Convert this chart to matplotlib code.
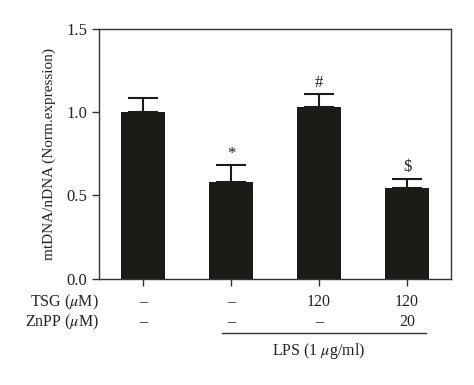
import matplotlib.pyplot as plt
import numpy as np

plt.rcParams['font.family'] = ['Liberation Serif', 'DejaVu Serif']
plt.rcParams['mathtext.fontset'] = 'stix'

# data
means = [1.00, 0.58, 1.03, 0.545]
errs = [0.085, 0.10, 0.08, 0.055]
marks = ['', '*', '#', '$']
tsg = ['\u2013', '\u2013', '120', '120']
znpp = ['\u2013', '\u2013', '\u2013', '20']
yticks = [0.0, 0.5, 1.0, 1.5]

barcol = '#1c1b17'
spcol = '#333333'
txtcol = '#222222'

fig = plt.figure(figsize=(4.74, 3.85), dpi=100)
ax = fig.add_axes([0.2089, 0.2766, 0.7426, 0.6481])

x = np.arange(len(means))
ax.bar(x, means, width=0.51, color=barcol, zorder=2)
ax.errorbar(x, means, yerr=[np.zeros(len(errs)), errs], fmt='none',
            ecolor=barcol, elinewidth=1.5, capsize=11, capthick=1.5, zorder=1)

for xi, m, e, s in zip(x, means, errs, marks):
	if s:
		ax.text(xi, m + e + 0.02, s if s != '$' else r'\$', ha='center', va='bottom',
		        fontsize=12, color=barcol)

ax.set_xlim(-0.5, 3.5)
ax.set_ylim(0, 1.5)
ax.set_yticks(yticks)
ax.set_yticklabels(['%.1f' % v for v in yticks], fontsize=12, color=txtcol)
ax.set_xticks(x)
ax.set_xticklabels([])
ax.tick_params(axis='both', direction='out', length=5, width=1, color=spcol)
for sp in ax.spines.values():
	sp.set_color(spcol)
	sp.set_linewidth(1)

ax.set_ylabel('mtDNA/nDNA (Norm.expression)', fontsize=11, color=txtcol, labelpad=7)

# treatment table below the axis
trans = ax.get_xaxis_transform()
ax.text(-0.5, -0.095, r'TSG ($\mu$M)', transform=trans, ha='right', va='center',
        fontsize=11.5, color=txtcol, clip_on=False)
ax.text(-0.5, -0.175, r'ZnPP ($\mu$M)', transform=trans, ha='right', va='center',
        fontsize=11.5, color=txtcol, clip_on=False)
for xi, a, b in zip(x, tsg, znpp):
	ax.text(xi, -0.095, a, transform=trans, ha='center', va='center',
	        fontsize=11.5, color=txtcol, clip_on=False)
	ax.text(xi, -0.175, b, transform=trans, ha='center', va='center',
	        fontsize=11.5, color=txtcol, clip_on=False)

ax.plot([0.9, 3.22], [-0.22, -0.22], transform=trans, color=spcol, lw=1, clip_on=False)
ax.text(2.0, -0.29, r'LPS (1 $\mu$g/ml)', transform=trans, ha='center', va='center',
        fontsize=11.5, color=txtcol, clip_on=False)

fig.savefig('out.png', dpi=100)
